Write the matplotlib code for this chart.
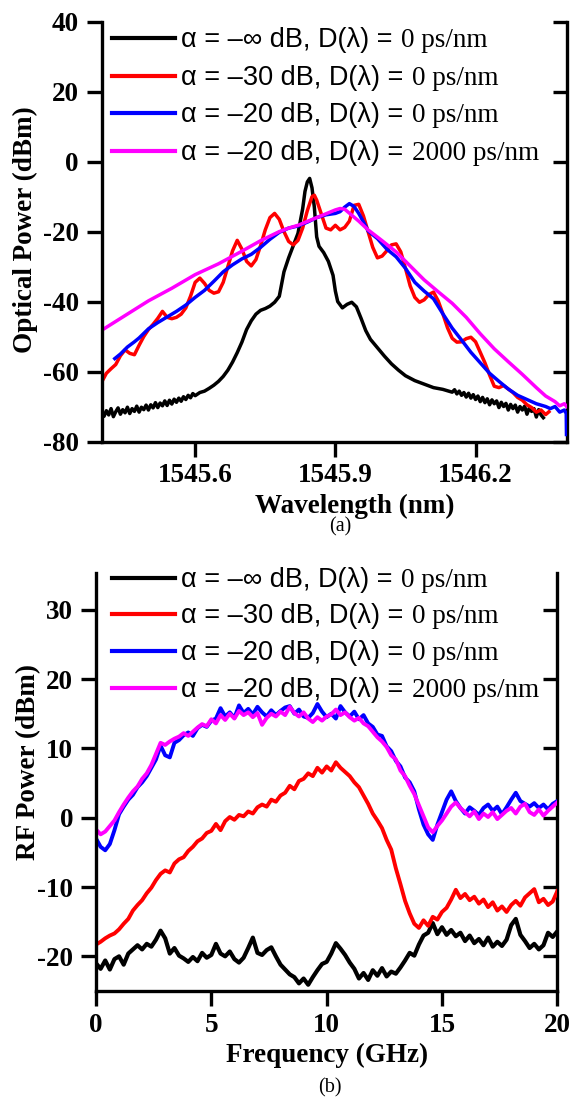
import numpy as np
import matplotlib
matplotlib.use('Agg')
import matplotlib.pyplot as plt
from matplotlib.lines import Line2D
from matplotlib.offsetbox import TextArea, HPacker, AnchoredOffsetbox

plt.rcParams['axes.unicode_minus'] = False

# ---------------- data: panel (a) optical spectra ----------------
wl_black = [1545.400, 1545.405, 1545.410, 1545.415, 1545.420, 1545.425, 1545.430, 1545.435, 1545.440, 1545.445,
            1545.450, 1545.455, 1545.460, 1545.465, 1545.470, 1545.475, 1545.480, 1545.485, 1545.490, 1545.495,
            1545.500, 1545.505, 1545.510, 1545.515, 1545.520, 1545.525, 1545.530, 1545.535, 1545.540, 1545.545,
            1545.550, 1545.555, 1545.560, 1545.565, 1545.570, 1545.575, 1545.580, 1545.585, 1545.590, 1545.595,
            1545.600, 1545.61, 1545.62, 1545.63, 1545.64, 1545.65, 1545.66, 1545.67, 1545.68, 1545.69,
            1545.70, 1545.71, 1545.72, 1545.73, 1545.74, 1545.75, 1545.76, 1545.77, 1545.78, 1545.785,
            1545.79, 1545.80, 1545.81, 1545.82, 1545.83, 1545.835, 1545.84, 1545.845, 1545.85, 1545.855,
            1545.86, 1545.865, 1545.875, 1545.885, 1545.895, 1545.90, 1545.905, 1545.915, 1545.925, 1545.935,
            1545.945, 1545.955, 1545.965, 1545.975, 1545.99, 1546.005, 1546.02, 1546.035, 1546.05, 1546.07,
            1546.09, 1546.11, 1546.13,
            1546.150, 1546.155, 1546.160, 1546.165, 1546.170, 1546.175, 1546.180, 1546.185, 1546.190, 1546.195,
            1546.200, 1546.205, 1546.210, 1546.215, 1546.220, 1546.225, 1546.230, 1546.235, 1546.240, 1546.245,
            1546.250, 1546.255, 1546.260, 1546.265, 1546.270, 1546.275, 1546.280, 1546.285, 1546.290, 1546.295,
            1546.300, 1546.305, 1546.310, 1546.315, 1546.320, 1546.325, 1546.330, 1546.335, 1546.340, 1546.345]
p_black = [-71.0, -72.8, -71.2, -72.4, -70.6, -72.9, -71.5, -70.4, -72.2, -70.9,
           -71.8, -70.2, -72.0, -70.6, -71.4, -69.9, -71.6, -70.2, -70.9, -69.6,
           -71.0, -69.5, -70.4, -68.9, -70.3, -69.0, -69.8, -68.4, -69.7, -68.2,
           -69.3, -67.9, -68.8, -67.6, -68.5, -67.2, -68.0, -66.8, -67.5, -66.3,
           -66.9, -66.0, -65.6, -64.8, -63.9, -62.8, -61.4, -59.6, -57.3, -54.6,
           -51.6, -48.0, -45.5, -43.6, -42.5, -42.0, -41.3, -40.2, -38.5, -35.0,
           -31.5, -27.5, -24.0, -20.5, -13.5, -8.5, -5.8, -4.8, -7.5, -13.0,
           -21.5, -24.2, -26.0, -28.5, -32.5, -37.0, -40.0, -41.8, -40.8, -40.2,
           -41.5, -44.8, -48.3, -50.8, -53.2, -55.6, -57.8, -59.6, -61.2, -62.6,
           -63.6, -64.6, -65.1,
           -65.9, -65.2, -66.4, -65.6, -66.8, -66.0, -67.3, -66.2, -67.6, -66.6,
           -68.0, -67.0, -68.6, -67.4, -68.9, -67.8, -69.5, -68.1, -69.2, -68.4,
           -70.3, -68.8, -70.0, -69.1, -71.0, -69.4, -70.6, -69.6, -71.6, -70.0,
           -71.0, -69.9, -72.2, -70.4, -71.4, -70.6, -73.0, -70.9, -72.4, -73.2]

wl_red = [1545.40, 1545.41, 1545.42, 1545.43, 1545.44, 1545.45, 1545.46, 1545.47, 1545.48, 1545.49,
          1545.50, 1545.51, 1545.52, 1545.53, 1545.54, 1545.55, 1545.56, 1545.57, 1545.58, 1545.59,
          1545.60, 1545.61, 1545.62, 1545.63, 1545.64, 1545.65, 1545.66, 1545.67, 1545.68, 1545.69,
          1545.70, 1545.71, 1545.72, 1545.73, 1545.74, 1545.75, 1545.76, 1545.77, 1545.78, 1545.79,
          1545.80, 1545.81, 1545.82, 1545.83, 1545.84, 1545.85, 1545.855, 1545.86, 1545.87, 1545.88,
          1545.89, 1545.90, 1545.91, 1545.92, 1545.93, 1545.94, 1545.95, 1545.96, 1545.97, 1545.98,
          1545.99, 1546.00, 1546.01, 1546.02, 1546.03, 1546.04, 1546.05, 1546.06, 1546.07, 1546.08,
          1546.09, 1546.10, 1546.11, 1546.12, 1546.13, 1546.14, 1546.15, 1546.16, 1546.17, 1546.18,
          1546.19, 1546.20, 1546.21, 1546.22, 1546.23, 1546.24, 1546.25, 1546.26, 1546.27, 1546.28,
          1546.29, 1546.30, 1546.31, 1546.32, 1546.33, 1546.34, 1546.35, 1546.357]
p_red = [-63.0, -60.5, -59.2, -58.0, -55.5, -53.8, -54.8, -55.2, -52.5, -50.0,
         -48.0, -46.5, -44.8, -42.8, -44.5, -44.9, -44.5, -43.6, -41.8, -38.5,
         -34.5, -33.3, -34.8, -36.8, -37.6, -37.2, -34.5, -30.0, -25.5, -22.5,
         -25.0, -28.5, -29.8, -28.0, -24.0, -19.5, -16.0, -14.8, -16.5, -20.0,
         -22.8, -23.8, -22.5, -19.0, -14.0, -10.0, -9.6, -11.0, -15.0, -19.0,
         -19.5, -18.2, -19.5, -18.8, -17.0, -12.5, -12.2, -15.5, -20.0, -24.5,
         -27.5, -27.0, -25.5, -23.8, -23.5, -25.8, -30.5, -35.5, -38.8, -40.2,
         -39.5, -38.0, -37.3, -39.8, -43.5, -47.5, -50.5, -51.6, -51.5, -50.6,
         -50.2, -51.5, -54.5, -57.5, -61.0, -64.2, -64.6, -64.0, -65.0, -66.0,
         -67.4, -68.2, -69.5, -70.3, -71.6, -71.0, -72.3, -71.5]

wl_blue = [1545.428, 1545.44, 1545.455, 1545.47, 1545.48, 1545.50, 1545.52, 1545.54, 1545.56, 1545.58,
           1545.60, 1545.62, 1545.64, 1545.66, 1545.68, 1545.70, 1545.72, 1545.74, 1545.76, 1545.78,
           1545.80, 1545.82, 1545.84, 1545.86, 1545.88, 1545.90, 1545.91, 1545.92, 1545.93, 1545.94,
           1545.95, 1545.96, 1545.97, 1545.99, 1546.01, 1546.03, 1546.05, 1546.07, 1546.09, 1546.11,
           1546.13, 1546.15, 1546.17, 1546.19, 1546.21, 1546.23, 1546.25, 1546.27, 1546.29, 1546.31,
           1546.33, 1546.35, 1546.36, 1546.37, 1546.38, 1546.39, 1546.394, 1546.3945]
p_blue = [-56.3, -55.0, -53.0, -51.5, -50.4, -47.8, -46.0, -44.4, -42.8, -41.0,
          -38.8, -36.8, -34.2, -31.5, -29.5, -27.8, -26.5, -24.5, -22.2, -20.2,
          -19.0, -18.4, -17.3, -16.0, -15.2, -14.8, -14.3, -13.0, -12.0, -12.8,
          -14.8, -17.2, -19.8, -22.0, -25.0, -27.2, -30.5, -34.5, -37.0, -39.2,
          -43.5, -47.6, -51.0, -54.5, -57.5, -60.5, -62.8, -65.0, -66.8, -68.0,
          -69.2, -70.0, -70.6, -70.0, -71.6, -71.0, -72.0, -78.0]

wl_mag = [1545.40, 1545.45, 1545.50, 1545.55, 1545.60, 1545.65, 1545.70, 1545.74, 1545.78, 1545.80,
          1545.82, 1545.84, 1545.86, 1545.88, 1545.90, 1545.91, 1545.92, 1545.935, 1545.95, 1545.97,
          1546.00, 1546.03, 1546.06, 1546.09, 1546.12, 1546.15, 1546.18, 1546.21, 1546.24, 1546.27,
          1546.30, 1546.33, 1546.35, 1546.37, 1546.38, 1546.39, 1546.395]
p_mag = [-48.2, -44.0, -39.8, -36.2, -32.3, -29.2, -25.6, -22.6, -20.0, -19.0,
         -18.2, -17.1, -16.0, -14.9, -13.8, -13.4, -13.6, -15.3, -17.0, -19.5,
         -22.6, -25.8, -29.8, -33.8, -37.2, -40.5, -44.5, -49.2, -53.5, -57.2,
         -60.8, -64.6, -67.0, -68.6, -69.8, -69.2, -70.0]

# ---------------- data: panel (b) RF spectra ----------------
freq = [i * 0.2 for i in range(101)]
rf_black = [-21.0, -21.8, -20.6, -21.9, -20.4, -20.0, -21.2, -19.6, -19.0, -18.4,
            -19.0, -18.2, -18.6, -17.6, -16.3, -17.4, -19.6, -18.8, -19.9, -20.3,
            -20.8, -20.1, -20.7, -19.5, -20.2, -19.8, -18.2, -19.6, -20.0, -19.3,
            -20.4, -20.9, -20.2, -18.8, -17.3, -19.5, -19.8, -19.1, -18.7, -20.0,
            -21.2, -21.9, -22.6, -23.0, -23.9, -23.2, -24.1, -23.0, -22.0, -21.1,
            -20.8, -19.6, -18.1, -18.9, -19.8, -20.9, -21.8, -23.2, -22.4, -23.4,
            -22.0, -22.8, -21.7, -22.9, -22.2, -22.5, -21.6, -20.6, -19.5, -19.9,
            -18.3, -17.0, -16.6, -15.2, -16.8, -15.8, -16.9, -16.2, -17.1, -16.6,
            -17.8, -17.0, -18.1, -17.5, -18.4, -17.3, -18.6, -17.9, -18.5, -17.6,
            -15.5, -14.6, -16.9, -17.8, -18.8, -18.2, -19.0, -18.4, -16.6, -17.2,
            -16.4]
rf_red = [-18.3, -17.9, -17.4, -17.0, -16.7, -16.1, -15.3, -14.6, -13.4, -12.6,
          -11.9, -10.9, -10.1, -9.0, -8.1, -7.6, -7.9, -6.6, -6.0, -5.7,
          -4.8, -4.2, -3.4, -3.0, -2.2, -1.9, -0.9, -1.8, -0.5, 0.1,
          -0.3, 0.4, 0.2, 0.9, 0.6, 1.5, 1.9, 1.6, 2.6, 2.3,
          3.2, 3.6, 4.6, 4.1, 5.3, 5.6, 6.4, 6.0, 7.2, 6.5,
          7.4, 6.8, 8.0, 7.2, 6.6, 6.0, 5.1, 4.4, 3.2, 2.0,
          0.6, -0.4, -1.5, -3.2, -4.6, -7.3, -9.6, -12.0, -13.8, -15.3,
          -15.9, -14.8, -15.6, -14.3, -14.7, -13.6, -13.0, -11.8, -10.4, -11.6,
          -11.0, -11.9, -11.4, -12.4, -11.8, -12.9, -12.2, -13.4, -12.8, -13.6,
          -12.6, -12.0, -12.7, -11.5, -10.9, -10.3, -12.2, -11.7, -12.6, -12.1,
          -10.6]
rf_blue = [-3.0, -4.2, -4.7, -3.8, -1.8, 0.5, 1.6, 2.6, 3.3, 4.4,
           5.1, 6.0, 7.2, 8.4, 10.4, 9.0, 8.7, 10.8, 11.2, 11.9,
           12.3, 11.8, 12.9, 13.4, 13.1, 14.0, 14.3, 15.8, 14.6, 15.2,
           14.4, 16.2, 15.1, 15.7, 14.9, 16.0, 15.2, 14.6, 15.5, 14.8,
           15.4, 15.9, 16.1, 15.0, 15.6, 14.6, 14.4, 15.1, 16.4, 15.3,
           14.5, 15.0, 14.3, 16.1, 15.2, 14.6, 15.3, 14.2, 14.8, 13.6,
           13.1, 12.0, 11.8, 10.3, 9.6, 8.2, 7.4, 5.8, 5.1, 3.8,
           1.2, -1.0, -2.4, -3.2, -1.0, 0.8, 2.6, 3.8, 2.4, 1.4,
           0.6, 1.5, 1.0, 0.4, 1.4, 1.9, 1.0, 1.6, 0.5, 1.5,
           2.6, 3.6, 2.4, 2.0, 1.6, 2.1, 1.4, 1.9, 1.2, 2.0,
           2.4]
rf_mag = [-1.7, -2.4, -2.0, -1.2, -0.4, 0.8, 1.9, 2.9, 3.8, 4.5,
          5.6, 6.4, 7.6, 9.2, 10.8, 10.5, 11.0, 11.4, 11.7, 12.2,
          11.8, 12.4, 13.0, 13.5, 13.2, 14.2, 13.6, 14.8, 14.1, 15.0,
          14.3, 15.4, 14.8, 15.2, 14.5, 15.1, 13.4, 14.4, 15.0, 14.6,
          15.3, 14.8, 16.0, 15.1, 14.6, 15.2, 14.3, 13.8, 14.5, 14.0,
          14.6, 14.9, 15.6, 14.8, 15.2, 14.5, 14.0, 14.4, 13.6, 13.2,
          12.4, 11.6, 11.0, 10.2, 9.0, 8.4, 6.8, 6.0, 4.6, 3.4,
          1.8, 0.2, -1.4, -2.1, -1.2, -0.4, 0.6, 1.6, 2.2, 1.4,
          0.8, 0.2, 0.9, -0.2, 0.6, 0.1, 0.8, -0.2, 0.4, 1.0,
          1.4, 0.6, 1.6, 2.0, 0.8, 0.4, 1.2, 0.3, 1.0, 1.6,
          2.2]

labels_sans = ['α = –∞ dB, D(λ) =', 'α = –30 dB, D(λ) =', 'α = –20 dB, D(λ) =', 'α = –20 dB, D(λ) =']
labels_serif = ['0 ps/nm', '0 ps/nm', '0 ps/nm', '2000 ps/nm']
colors = ['#000000', '#ff0000', '#0000ff', '#ff00ff']

wl_ticks = [1545.6, 1545.9, 1546.2]
opt_yticks = [-80, -60, -40, -20, 0, 20, 40]
f_ticks = [0, 5, 10, 15, 20]
rf_yticks = [-20, -10, 0, 10, 20, 30]

# ---------------- figure ----------------
W, H = 571, 1097
fig = plt.figure(figsize=(W / 100, H / 100), dpi=100)
SERIF = 'Liberation Serif'
SANS = 'Liberation Sans'
FS = 19.5
LW = 2.4


def px_box(l, r, t, b):
    return [l / W, 1 - b / H, (r - l) / W, (b - t) / H]


def style_axes(ax, yticks):
    ax.spines['top'].set_visible(False)
    ax.spines['right'].set_visible(False)
    for s in ('left', 'bottom'):
        ax.spines[s].set_linewidth(LW)
    ax.tick_params(direction='out', length=10.5, width=LW, pad=5,
                   labelsize=FS)
    ax.tick_params(axis='y', pad=6)
    for lab in ax.get_xticklabels() + ax.get_yticklabels():
        lab.set_fontfamily(SERIF)
        lab.set_fontweight('bold')
    sec = ax.secondary_yaxis('right')
    sec.set_yticks(yticks)
    sec.tick_params(direction='in', length=10, width=LW, labelright=False)
    sec.spines['right'].set_linewidth(LW)
    return sec


# ---- panel (a)
ax1 = fig.add_axes(px_box(101.7, 566.7, 21.7, 441.5))
ax1.plot(wl_black, p_black, color=colors[0], lw=2.5)
ax1.plot(wl_red, p_red, color=colors[1], lw=2.5)
ax1.plot(wl_blue, p_blue, color=colors[2], lw=2.5)
ax1.plot(wl_mag, p_mag, color=colors[3], lw=2.5)
ax1.set_xlim(1545.40, 1546.395)
ax1.set_ylim(-80, 40)
ax1.set_xticks(wl_ticks)
ax1.set_xticklabels(['%.1f' % v for v in wl_ticks])
ax1.set_yticks(opt_yticks)
style_axes(ax1, opt_yticks)
ax1.set_xlabel('Wavelength (nm)', fontsize=FS, fontweight='bold', fontfamily=SERIF, va='center')
ax1.xaxis.set_label_coords(0.545, -0.155)
ax1.set_ylabel('Optical Power (dBm)', fontsize=FS, fontweight='bold', fontfamily=SERIF, va='center')
ax1.yaxis.set_label_coords(-0.165, 0.505)

# ---- panel (b)
ax2 = fig.add_axes(px_box(96, 557.3, 573, 991))
ax2.plot(freq, rf_black, color=colors[0], lw=3.0)
ax2.plot(freq, rf_red, color=colors[1], lw=2.8)
ax2.plot(freq, rf_blue, color=colors[2], lw=2.8)
ax2.plot(freq, rf_mag, color=colors[3], lw=2.8)
ax2.set_xlim(0, 20)
ax2.set_ylim(-25, 35.3)
ax2.set_xticks(f_ticks)
ax2.set_yticks(rf_yticks)
style_axes(ax2, rf_yticks)
ax2.set_xlabel('Frequency (GHz)', fontsize=FS, fontweight='bold', fontfamily=SERIF, va='center')
ax2.xaxis.set_label_coords(0.5, -0.153)
ax2.set_ylabel('RF Power (dBm)', fontsize=FS, fontweight='bold', fontfamily=SERIF, va='center')
ax2.yaxis.set_label_coords(-0.145, 0.548)

# ---- legends (mixed sans / serif text)
def draw_legend(rows_y):
    for i, y in enumerate(rows_y):
        fig.add_artist(Line2D([111.7 / W, 175 / W], [1 - y / H, 1 - y / H],
                              transform=fig.transFigure, color=colors[i], lw=3))
        t1 = TextArea(labels_sans[i], textprops=dict(fontfamily=SANS, fontsize=FS))
        t2 = TextArea(labels_serif[i], textprops=dict(fontfamily=SERIF, fontsize=FS))
        row = HPacker(children=[t1, t2], sep=6, pad=0, align='baseline')
        box = AnchoredOffsetbox(loc='center left', child=row, pad=0, borderpad=0,
                                frameon=False, bbox_to_anchor=(181 / W, 1 - (y + 2) / H),
                                bbox_transform=fig.transFigure)
        fig.add_artist(box)

draw_legend([38.3, 76.0, 112.7, 151.0])
draw_legend([577.8, 614.3, 651.0, 687.7])

fig.text(340 / W, 1 - 527 / H, '(a)', fontsize=14.5, fontfamily=SERIF, ha='center', va='center')
fig.text(330 / W, 1 - 1088 / H, '(b)', fontsize=14.5, fontfamily=SERIF, ha='center', va='center')

fig.savefig('out.png', dpi=100)
